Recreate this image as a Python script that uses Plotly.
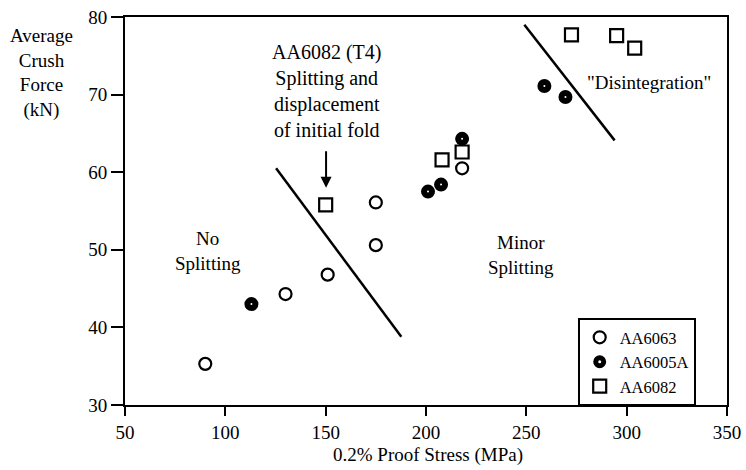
import plotly.graph_objects as go

# Data
aa6063_x = [90, 130, 151, 175, 175, 218]
aa6063_y = [35.3, 44.3, 46.8, 50.6, 56.1, 60.5]

aa6005a_x = [113, 201, 207.5, 218, 259, 269.5]
aa6005a_y = [43.0, 57.5, 58.4, 64.3, 71.1, 69.7]

aa6082_x = [150, 208, 218, 272.5, 295, 304]
aa6082_y = [55.8, 61.6, 62.6, 77.7, 77.6, 76.0]

# Region boundary lines
boundary1_x = [125.3, 187.7]
boundary1_y = [60.5, 38.8]
boundary2_x = [249, 294]
boundary2_y = [79.0, 64.1]

x_ticks = [50, 100, 150, 200, 250, 300, 350]
y_ticks = [30, 40, 50, 60, 70, 80]

FONT = "Liberation Serif"
F19 = dict(family=FONT, size=19, color="black")
F20 = dict(family=FONT, size=20, color="black")
FLEG = dict(family=FONT, size=16.5, color="black")

fig = go.Figure()

fig.add_trace(go.Scatter(x=boundary1_x, y=boundary1_y, mode="lines",
                         line=dict(color="black", width=2.5), showlegend=False, hoverinfo="skip"))
fig.add_trace(go.Scatter(x=boundary2_x, y=boundary2_y, mode="lines",
                         line=dict(color="black", width=2.5), showlegend=False, hoverinfo="skip"))

fig.add_trace(go.Scatter(x=aa6063_x, y=aa6063_y, mode="markers", name="AA6063",
                         marker=dict(symbol="circle-open", size=12, color="black",
                                     line=dict(width=2.2, color="black"))))
fig.add_trace(go.Scatter(x=aa6005a_x, y=aa6005a_y, mode="markers", name="AA6005A",
                         marker=dict(symbol="circle-open", size=8, color="black",
                                     line=dict(width=6, color="black"))))
fig.add_trace(go.Scatter(x=aa6082_x, y=aa6082_y, mode="markers", name="AA6082",
                         marker=dict(symbol="square-open", size=13, color="black",
                                     line=dict(width=2.2, color="black"))))

annotations = [
    dict(x=150.2, y=58.0, ax=150.2, ay=62.9, xref="x", yref="y", axref="x", ayref="y",
         text="", showarrow=True, arrowhead=2, arrowsize=1.1, arrowwidth=2, arrowcolor="black"),
    dict(x=150.2, y=70.5, xref="x", yref="y", showarrow=False, font=F20,
         text="AA6082 (T4)<br>Splitting and<br>displacement<br>of initial fold",
         align="center", xanchor="center", yanchor="middle"),
    dict(x=311.3, y=71.6, xref="x", yref="y", showarrow=False, font=F19,
         text='"Disintegration"', xanchor="center", yanchor="middle"),
    dict(x=91.4, y=49.8, xref="x", yref="y", showarrow=False, font=F19,
         text="No<br>Splitting", align="center", xanchor="center", yanchor="middle"),
    dict(x=247.5, y=49.3, xref="x", yref="y", showarrow=False, font=F19,
         text="Minor<br>Splitting", align="center", xanchor="center", yanchor="middle"),
    dict(x=-0.1395, y=0.855, xref="paper", yref="paper", showarrow=False, font=F19,
         text="Average<br>Crush<br>Force<br>(kN)", align="center", xanchor="center", yanchor="middle"),
    dict(x=0.503, y=-0.128, xref="paper", yref="paper", showarrow=False, font=F19,
         text="0.2% Proof Stress (MPa)", xanchor="center", yanchor="middle"),
]

fig.update_layout(
    width=746, height=470,
    margin=dict(l=125, r=19, t=17, b=65),
    paper_bgcolor="white", plot_bgcolor="white",
    font=F19,
    annotations=annotations,
    showlegend=True,
    legend=dict(x=0.752, y=0.224, xanchor="left", yanchor="top",
                bordercolor="black", borderwidth=2, bgcolor="white",
                font=FLEG, tracegroupgap=0, itemwidth=30,
                entrywidth=88, entrywidthmode="pixels"),
)

fig.update_xaxes(range=[50, 350], tickvals=x_ticks, ticktext=[str(v) for v in x_ticks],
                 automargin=False,
                 showgrid=False, zeroline=False, showline=True, linecolor="black", linewidth=2,
                 mirror=True, ticks="outside", ticklen=9, tickwidth=2, tickcolor="black",
                 tickfont=F19)
fig.update_yaxes(range=[30, 80], tickvals=y_ticks, ticktext=[str(v) for v in y_ticks],
                 automargin=False,
                 showgrid=False, zeroline=False, showline=True, linecolor="black", linewidth=2,
                 mirror=True, ticks="outside", ticklen=12, tickwidth=2, tickcolor="black",
                 tickfont=F19)

fig.write_html("out.html")
